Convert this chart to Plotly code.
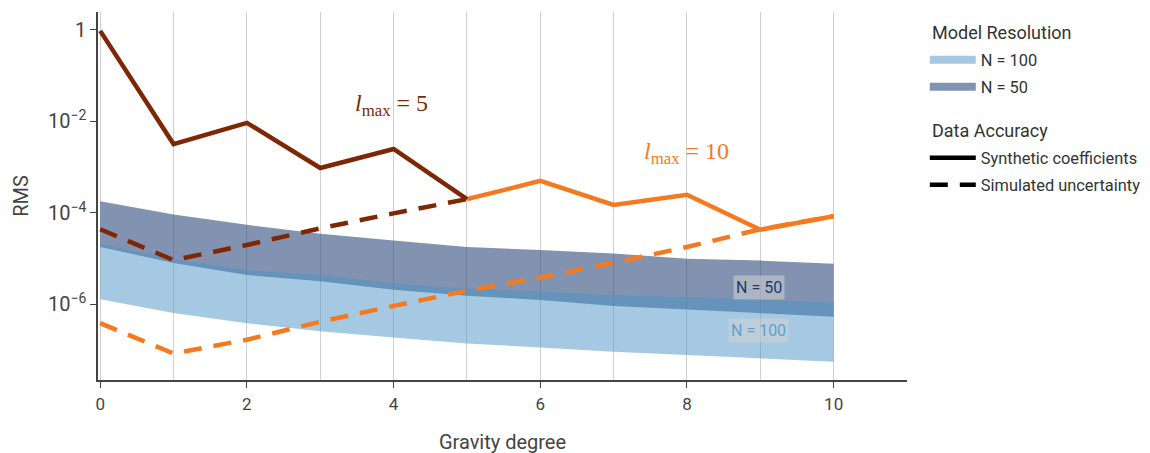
import plotly.graph_objects as go

degree = list(range(11))
deg_l5 = [0, 1, 2, 3, 4, 5]
deg_l10 = [5, 6, 7, 8, 9, 10]

synthetic_l5 = [0.95, 3.2e-3, 9.3e-3, 9.6e-4, 2.5e-3, 2.0e-4]
synthetic_l10 = [2.0e-4, 5.0e-4, 1.5e-4, 2.5e-4, 4.3e-5, 8.5e-5]
simulated_l5 = [4.4e-5, 9.3e-6, 2.0e-5, 4.6e-5, 9.8e-5, 2.0e-4]
simulated_l10 = [3.9e-7, 8.5e-8, 1.7e-7, 4.2e-7, 9.3e-7, 2.0e-6, 3.9e-6, 8.1e-6, 1.8e-5, 4.4e-5, 8.5e-5]

n50_upper = [1.8e-4, 9.3e-5, 5.5e-5, 3.5e-5, 2.5e-5, 1.8e-5, 1.55e-5, 1.3e-5, 1.0e-5, 9.1e-6, 7.8e-6]
n50_lower = [1.8e-5, 8.1e-6, 4.4e-6, 3.2e-6, 2.1e-6, 1.55e-6, 1.26e-6, 9.3e-7, 7.8e-7, 6.5e-7, 5.4e-7]
n100_upper = [2.1e-5, 9.8e-6, 5.6e-6, 4.4e-6, 2.9e-6, 2.2e-6, 1.9e-6, 1.6e-6, 1.45e-6, 1.26e-6, 1.1e-6]
n100_lower = [1.3e-6, 6.5e-7, 3.9e-7, 2.6e-7, 1.9e-7, 1.4e-7, 1.15e-7, 9.3e-8, 7.9e-8, 6.6e-8, 5.6e-8]

ytick_vals = [1, 1e-2, 1e-4, 1e-6]
ytick_text = ["1", "10<sup>−2</sup>", "10<sup>−4</sup>", "10<sup>−6</sup>"]

legend_titles = ["Model Resolution", "Data Accuracy"]

BROWN = "#7f2704"
ORANGE = "#f57a1f"
C50 = "rgba(45,75,123,0.6)"
C100 = "rgba(75,147,197,0.5)"
C50_LEG = "#8193b0"
C100_LEG = "#a5c9e2"

fig = go.Figure()

def band(upper, lower, color):
    fig.add_trace(go.Scatter(x=degree, y=upper, mode="lines", line=dict(width=0),
                             showlegend=False, hoverinfo="skip"))
    fig.add_trace(go.Scatter(x=degree, y=lower, mode="lines", line=dict(width=0),
                             fill="tonexty", fillcolor=color, showlegend=False, hoverinfo="skip"))

band(n50_upper, n50_lower, C50)
band(n100_upper, n100_lower, C100)

DASH = "18px,12px"
LW = 4.5
fig.add_trace(go.Scatter(x=deg_l5, y=simulated_l5, mode="lines",
                         line=dict(color=BROWN, width=LW, dash=DASH), showlegend=False))
fig.add_trace(go.Scatter(x=degree, y=simulated_l10, mode="lines",
                         line=dict(color=ORANGE, width=LW, dash=DASH), showlegend=False))
fig.add_trace(go.Scatter(x=deg_l10, y=synthetic_l10, mode="lines",
                         line=dict(color=ORANGE, width=LW), showlegend=False))
fig.add_trace(go.Scatter(x=deg_l5, y=synthetic_l5, mode="lines",
                         line=dict(color=BROWN, width=LW), showlegend=False))

# legend entries, one legend each for exact placement
fig.add_trace(go.Scatter(x=[None], y=[None], mode="lines", name="N = 100",
                         line=dict(color=C100_LEG, width=8), legend="legend"))
fig.add_trace(go.Scatter(x=[None], y=[None], mode="lines", name="N = 50",
                         line=dict(color=C50_LEG, width=8), legend="legend2"))
fig.add_trace(go.Scatter(x=[None], y=[None], mode="lines", name="Synthetic coefficients",
                         line=dict(color="black", width=4.5), legend="legend3"))
fig.add_trace(go.Scatter(x=[None], y=[None], mode="lines", name="Simulated uncertainty",
                         line=dict(color="black", width=4.5, dash=DASH), legend="legend4"))

serif = "Liberation Serif, DejaVu Serif, serif"
fig.add_annotation(x=3.97, y=-1.64, xref="x", yref="y",
                   text="<i>l</i><sub>max</sub> = 5", showarrow=False,
                   font=dict(family=serif, size=24, color=BROWN))
fig.add_annotation(x=7.99, y=-2.69, xref="x", yref="y",
                   text="<i>l</i><sub>max</sub> = 10", showarrow=False,
                   font=dict(family=serif, size=24, color=ORANGE))
fig.add_annotation(x=8.98, y=-5.62, xref="x", yref="y", text="N = 50", showarrow=False,
                   font=dict(size=16, color="#1f3a6e"), bgcolor="rgba(210,210,210,0.55)",
                   borderpad=2)
fig.add_annotation(x=8.98, y=-6.56, xref="x", yref="y", text="N = 100", showarrow=False,
                   font=dict(size=16, color="#5fa0d4"), bgcolor="rgba(210,210,210,0.55)",
                   borderpad=2)
for title, ty in zip(legend_titles, [0.943, 0.679]):
    fig.add_annotation(x=1.0284, y=ty, xref="paper", yref="paper", text=title,
                       showarrow=False, xanchor="left", yanchor="middle",
                       font=dict(size=18, color="#333"))

leg_common = dict(x=1.022, xanchor="left", yanchor="middle",
                  font=dict(size=16.4, color="#333"), itemwidth=46, bgcolor="rgba(0,0,0,0)")
fig.update_layout(
    width=1150, height=453,
    margin=dict(l=90, r=251, t=4, b=81),
    paper_bgcolor="white", plot_bgcolor="white",
    font=dict(family="Roboto, Liberation Sans, sans-serif", color="#444", size=16),
    legend=dict(y=0.8696, **leg_common),
    legend2=dict(y=0.7962, **leg_common),
    legend3=dict(y=0.6033, **leg_common),
    legend4=dict(y=0.5299, **leg_common),
    showlegend=True,
)
fig.update_xaxes(range=[-0.03, 11], dtick=2, tick0=0, showgrid=True, gridcolor="#d0d0d0",
                 gridwidth=1, minor=dict(dtick=1, showgrid=True, gridcolor="#d0d0d0", gridwidth=1),
                 showline=True, linecolor="#444", linewidth=1.5, ticks="outside", ticklen=6,
                 tickcolor="#444", zeroline=False, automargin=False, ticklabelstandoff=2,
                 tickfont=dict(size=17),
                 title=dict(text="Gravity degree", font=dict(size=20), standoff=22))
fig.update_yaxes(type="log", range=[-7.65, 0.39], tickvals=ytick_vals, ticktext=ytick_text,
                 showgrid=False, showline=True, linecolor="#444", linewidth=1.5,
                 ticks="outside", ticklen=6, tickcolor="#444", zeroline=False, automargin=False,
                 tickfont=dict(size=20),
                 title=dict(text="RMS", font=dict(size=20), standoff=14))

fig.write_html("out.html")
